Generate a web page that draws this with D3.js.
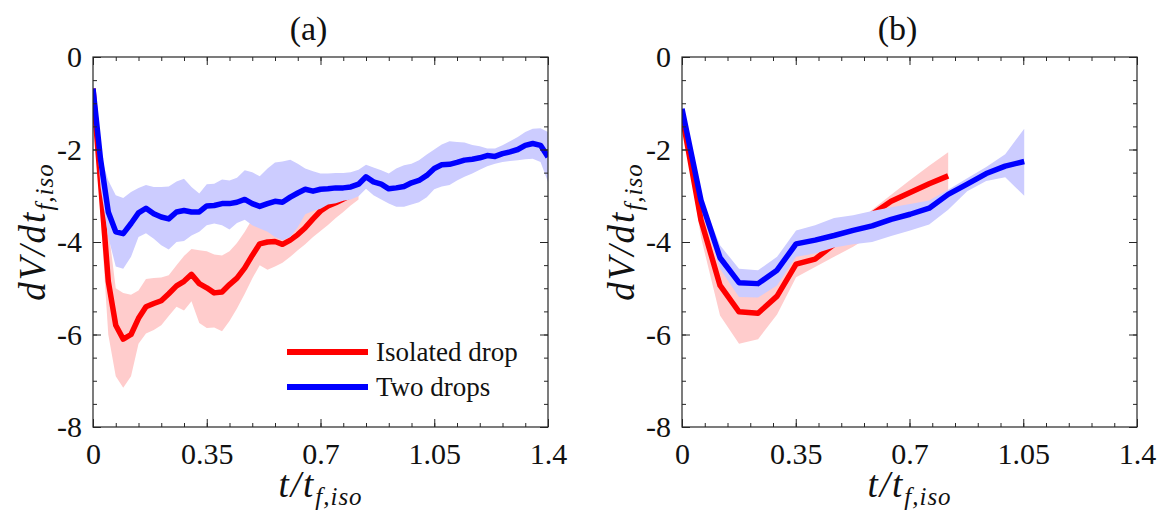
<!DOCTYPE html>
<html>
<head>
<meta charset="utf-8">
<script src="https://cdn.jsdelivr.net/npm/d3@7/dist/d3.min.js"></script>
<style>
    body { margin: 0; background: #fff; }
    svg text { font-family: "Liberation Serif", "Times New Roman", Times, serif !important; fill: #111; }
</style>
</head>
<body>
<svg id="chart" width="1166" height="521"></svg>
<script>
// ---- panel (a) ----
let tA = [0, 0.023, 0.047, 0.070, 0.093, 0.117, 0.140, 0.163, 0.187, 0.210, 0.233, 0.257, 0.280, 0.303,
    0.327, 0.350, 0.373, 0.397, 0.420, 0.443, 0.467, 0.490, 0.513, 0.537, 0.560, 0.583, 0.607, 0.630,
    0.653, 0.677, 0.700, 0.723, 0.747, 0.770, 0.793, 0.817, 0.840, 0.863, 0.887, 0.910, 0.933, 0.957,
    0.980, 1.003, 1.027, 1.050, 1.073, 1.097, 1.120, 1.143, 1.167, 1.190, 1.213, 1.237, 1.260, 1.283,
    1.307, 1.330, 1.353, 1.377, 1.400];

let isoA = [-0.68, -2.7, -4.85, -5.8, -6.1, -6.0, -5.65, -5.4, -5.33, -5.27, -5.12, -4.95, -4.85, -4.7,
    -4.9, -4.99, -5.1, -5.08, -4.92, -4.78, -4.56, -4.29, -4.04, -4.0, -3.99, -4.05, -3.96, -3.84,
    -3.69, -3.5, -3.33, -3.22, -3.15, -3.07, -2.99, -2.92];
let isoA_lo = [-0.72, -3.4, -6.0, -6.9, -7.15, -6.9, -6.2, -5.98, -5.9, -5.8, -5.6, -5.4, -5.48, -5.28,
    -5.75, -5.86, -5.85, -5.93, -5.71, -5.44, -5.12, -4.79, -4.5, -4.6, -4.53, -4.45, -4.32, -4.18,
    -4.05, -3.89, -3.76, -3.63, -3.48, -3.35, -3.21, -3.08];
let isoA_hi = [-0.62, -2.1, -3.7, -5.0, -5.1, -5.14, -5.05, -4.8, -4.78, -4.77, -4.72, -4.5, -4.3, -4.15,
    -4.18, -4.2, -4.27, -4.29, -4.2, -4.02, -3.78, -3.5, -3.3, -3.25, -3.3, -3.35, -3.3, -3.2,
    -3.1, -3.05, -3.0, -2.95, -2.92, -2.9, -2.88, -2.85];

let twoA = [-0.68, -2.2, -3.35, -3.78, -3.82, -3.6, -3.37, -3.27, -3.39, -3.46, -3.5, -3.35, -3.32, -3.35,
    -3.35, -3.22, -3.21, -3.17, -3.17, -3.14, -3.08, -3.17, -3.23, -3.17, -3.12, -3.14, -3.03, -2.94,
    -2.86, -2.9, -2.86, -2.85, -2.83, -2.83, -2.81, -2.75, -2.59, -2.7, -2.75, -2.85, -2.83, -2.8,
    -2.72, -2.67, -2.56, -2.41, -2.33, -2.32, -2.28, -2.23, -2.21, -2.18, -2.13, -2.15, -2.09, -2.05,
    -2.0, -1.91, -1.87, -1.91, -2.16];
let twoA_lo = [-0.72, -2.8, -3.89, -4.53, -4.58, -4.32, -3.89, -3.81, -3.93, -4.07, -4.16, -4.0, -3.98, -3.86,
    -3.78, -3.64, -3.6, -3.64, -3.73, -3.59, -3.52, -3.64, -3.71, -3.78, -3.89, -3.96, -3.89, -3.68,
    -3.4, -3.33, -3.28, -3.19, -3.16, -3.11, -3.08, -3.01, -2.85, -2.99, -3.08, -3.17, -3.24, -3.24,
    -3.19, -3.14, -3.03, -2.86, -2.8, -2.77, -2.67, -2.59, -2.52, -2.44, -2.36, -2.31, -2.27, -2.25,
    -2.23, -2.21, -2.2, -2.27, -2.7];
let twoA_hi = [-0.65, -2.1, -2.67, -2.99, -3.05, -2.92, -2.83, -2.77, -2.81, -2.81, -2.8, -2.69, -2.63, -2.81,
    -2.95, -2.75, -2.74, -2.65, -2.67, -2.61, -2.45, -2.49, -2.58, -2.41, -2.28, -2.26, -2.22, -2.31,
    -2.41, -2.47, -2.52, -2.52, -2.51, -2.51, -2.49, -2.44, -2.33, -2.39, -2.45, -2.52, -2.41, -2.34,
    -2.31, -2.23, -2.11, -2.0, -1.89, -1.82, -1.84, -1.85, -1.9, -1.93, -1.98, -1.98, -1.91, -1.82,
    -1.73, -1.62, -1.55, -1.54, -1.62];

// ---- panel (b) ----
let tB = [0, 0.0585, 0.117, 0.1755, 0.234, 0.2925, 0.351, 0.4095, 0.468, 0.5265, 0.585, 0.6435,
    0.702, 0.7605, 0.819, 0.8775, 0.936, 0.9945, 1.053];

let isoB = [-1.26, -3.53, -4.94, -5.51, -5.54, -5.17, -4.48, -4.37, -4.05, -3.72, -3.4, -3.12, -2.93, -2.74, -2.57];
let isoB_lo = [-1.3, -3.9, -5.59, -6.2, -6.1, -5.57, -4.76, -4.54, -4.32, -4.1, -3.85, -3.6, -3.35, -3.15, -3.0];
let isoB_hi = [-1.22, -3.24, -4.4, -4.94, -4.97, -4.72, -4.25, -4.18, -3.96, -3.68, -3.3, -2.98, -2.66, -2.35, -2.06];

let twoB = [-1.12, -3.1, -4.34, -4.88, -4.9, -4.61, -4.04, -3.96, -3.86, -3.75, -3.65, -3.51, -3.4, -3.27,
    -2.97, -2.75, -2.52, -2.36, -2.26];
let twoB_lo = [-1.15, -3.24, -4.58, -5.19, -5.2, -4.94, -4.32, -4.25, -4.12, -4.05, -4.0, -3.87, -3.75, -3.62,
    -3.3, -2.9, -2.68, -2.6, -3.0];
let twoB_hi = [-1.08, -3.03, -4.07, -4.58, -4.61, -4.32, -3.75, -3.64, -3.48, -3.42, -3.33, -3.25, -3.18, -3.1,
    -2.87, -2.62, -2.38, -2.1, -1.55];

let xMajor = [0, 0.35, 0.7, 1.05, 1.4];
let xMajorLabels = ["0", "0.35", "0.7", "1.05", "1.4"];
let yMajor = [0, -2, -4, -6, -8];
let yMajorLabels = ["0", "-2", "-4", "-6", "-8"];
let legendNames = ["Isolated drop", "Two drops"];

let colors = { iso: "#ff0000", two: "#0000ff", isoBand: "#ffcccc", twoBand: "#ccccff" };

let serif = "'Liberation Serif', 'Times New Roman', Times, serif";
let svg = d3.select("#chart").style("font-family", serif);
let top_ = 57, bottom = 427, plotW = 455;
let axisColor = "#262626";

function zip(t, m, lo, hi) {
    return m.map(function (v, i) {
        return { t: t[i], m: v, lo: lo[i], hi: hi[i] };
    });
}

function drawPanel(left, title, iso, two, id, withLegend) {
    let x = d3.scaleLinear().domain([0, 1.4]).range([left, left + plotW]);
    let y = d3.scaleLinear().domain([-8, 0]).range([bottom, top_]);

    svg.append("clipPath").attr("id", "clip" + id)
        .append("rect")
        .attr("x", left).attr("y", top_)
        .attr("width", plotW).attr("height", bottom - top_);

    let plot = svg.append("g").attr("clip-path", "url(#clip" + id + ")");

    let area = d3.area()
        .x(function (d) { return x(d.t); })
        .y0(function (d) { return y(d.lo); })
        .y1(function (d) { return y(d.hi); });
    let line = d3.line()
        .x(function (d) { return x(d.t); })
        .y(function (d) { return y(d.m); });

    // red first, blue band sits on top of it
    plot.append("path").datum(iso).attr("d", area).attr("fill", colors.isoBand);
    plot.append("path").datum(iso).attr("d", line)
        .attr("fill", "none").attr("stroke", colors.iso).attr("stroke-width", 5.5)
        .attr("stroke-linejoin", "round");
    plot.append("path").datum(two).attr("d", area).attr("fill", colors.twoBand);
    plot.append("path").datum(two).attr("d", line)
        .attr("fill", "none").attr("stroke", colors.two).attr("stroke-width", 5.5)
        .attr("stroke-linejoin", "round");

    // ticks (inside, all four sides)
    let xMinor = d3.range(0, 21).map(function (i) { return +(i * 0.07).toFixed(2); });
    let yMinor = d3.range(0, 17).map(function (i) { return -8 + i * 0.5; });

    function styleAxis(g) {
        g.attr("font-family", null);
        g.select(".domain").remove();
        g.selectAll(".tick line").attr("stroke", axisColor);
        g.selectAll(".tick text")
            .style("font-family", serif)
            .style("font-size", "30px")
            .attr("fill", "#111");
    }

    svg.append("g").attr("transform", "translate(0," + bottom + ")")
        .call(d3.axisBottom(x).tickValues(xMinor).tickSize(-4).tickFormat(""))
        .call(styleAxis);
    svg.append("g").attr("transform", "translate(0," + top_ + ")")
        .call(d3.axisTop(x).tickValues(xMinor).tickSize(-4).tickFormat(""))
        .call(styleAxis);
    svg.append("g").attr("transform", "translate(0," + bottom + ")")
        .call(d3.axisBottom(x).tickValues(xMajor).tickSize(-8).tickPadding(16)
            .tickFormat(function (d, i) { return xMajorLabels[i]; }))
        .call(styleAxis);
    svg.append("g").attr("transform", "translate(0," + top_ + ")")
        .call(d3.axisTop(x).tickValues(xMajor).tickSize(-8).tickFormat(""))
        .call(styleAxis);

    svg.append("g").attr("transform", "translate(" + left + ",0)")
        .call(d3.axisLeft(y).tickValues(yMinor).tickSize(-4).tickFormat(""))
        .call(styleAxis);
    svg.append("g").attr("transform", "translate(" + (left + plotW) + ",0)")
        .call(d3.axisRight(y).tickValues(yMinor).tickSize(-4).tickFormat(""))
        .call(styleAxis);
    svg.append("g").attr("transform", "translate(" + left + ",0)")
        .call(d3.axisLeft(y).tickValues(yMajor).tickSize(-8).tickPadding(11)
            .tickFormat(function (d, i) { return yMajorLabels[i]; }))
        .call(styleAxis);
    svg.append("g").attr("transform", "translate(" + (left + plotW) + ",0)")
        .call(d3.axisRight(y).tickValues(yMajor).tickSize(-8).tickFormat(""))
        .call(styleAxis);

    svg.append("rect")
        .attr("x", left).attr("y", top_)
        .attr("width", plotW).attr("height", bottom - top_)
        .attr("fill", "none").attr("stroke", axisColor).attr("stroke-width", 1.2);

    // title
    svg.append("text")
        .attr("x", left + plotW / 2 - 12).attr("y", 40)
        .attr("text-anchor", "middle")
        .style("font-size", "34px")
        .text(title);

    // x label  t/t_{f,iso}
    let xl = svg.append("text")
        .attr("x", left + plotW / 2).attr("y", 497)
        .attr("text-anchor", "middle")
        .style("font-size", "37px")
        .style("font-style", "italic")
        .style("letter-spacing", "2px");
    xl.append("tspan").text("t/t");
    xl.append("tspan").attr("dy", 8).style("font-size", "25px").style("letter-spacing", "1px").text("f,iso");

    // y label  dV/dt_{f,iso}
    let yl = svg.append("text")
        .attr("transform", "translate(" + (left - 48) + "," + ((top_ + bottom) / 2 - 10) + ") rotate(-90)")
        .attr("text-anchor", "middle")
        .style("font-size", "37px")
        .style("font-style", "italic")
        .style("letter-spacing", "2px");
    yl.append("tspan").text("dV/dt");
    yl.append("tspan").attr("dy", 8).style("font-size", "25px").style("letter-spacing", "1px").text("f,iso");

    if (withLegend) {
        let leg = svg.append("g");
        let legColors = [colors.iso, colors.two];
        legendNames.forEach(function (name, i) {
            let ly = 352 + i * 35;
            leg.append("line")
                .attr("x1", 287).attr("x2", 368)
                .attr("y1", ly).attr("y2", ly)
                .attr("stroke", legColors[i]).attr("stroke-width", 6);
            leg.append("text")
                .attr("x", 376).attr("y", ly + 9)
                .style("font-size", "27px")
                .text(name);
        });
    }
}

drawPanel(93, "(a)", zip(tA, isoA, isoA_lo, isoA_hi), zip(tA, twoA, twoA_lo, twoA_hi), "a", true);
drawPanel(682, "(b)", zip(tB, isoB, isoB_lo, isoB_hi), zip(tB, twoB, twoB_lo, twoB_hi), "b", false);
</script>
</body>
</html>
